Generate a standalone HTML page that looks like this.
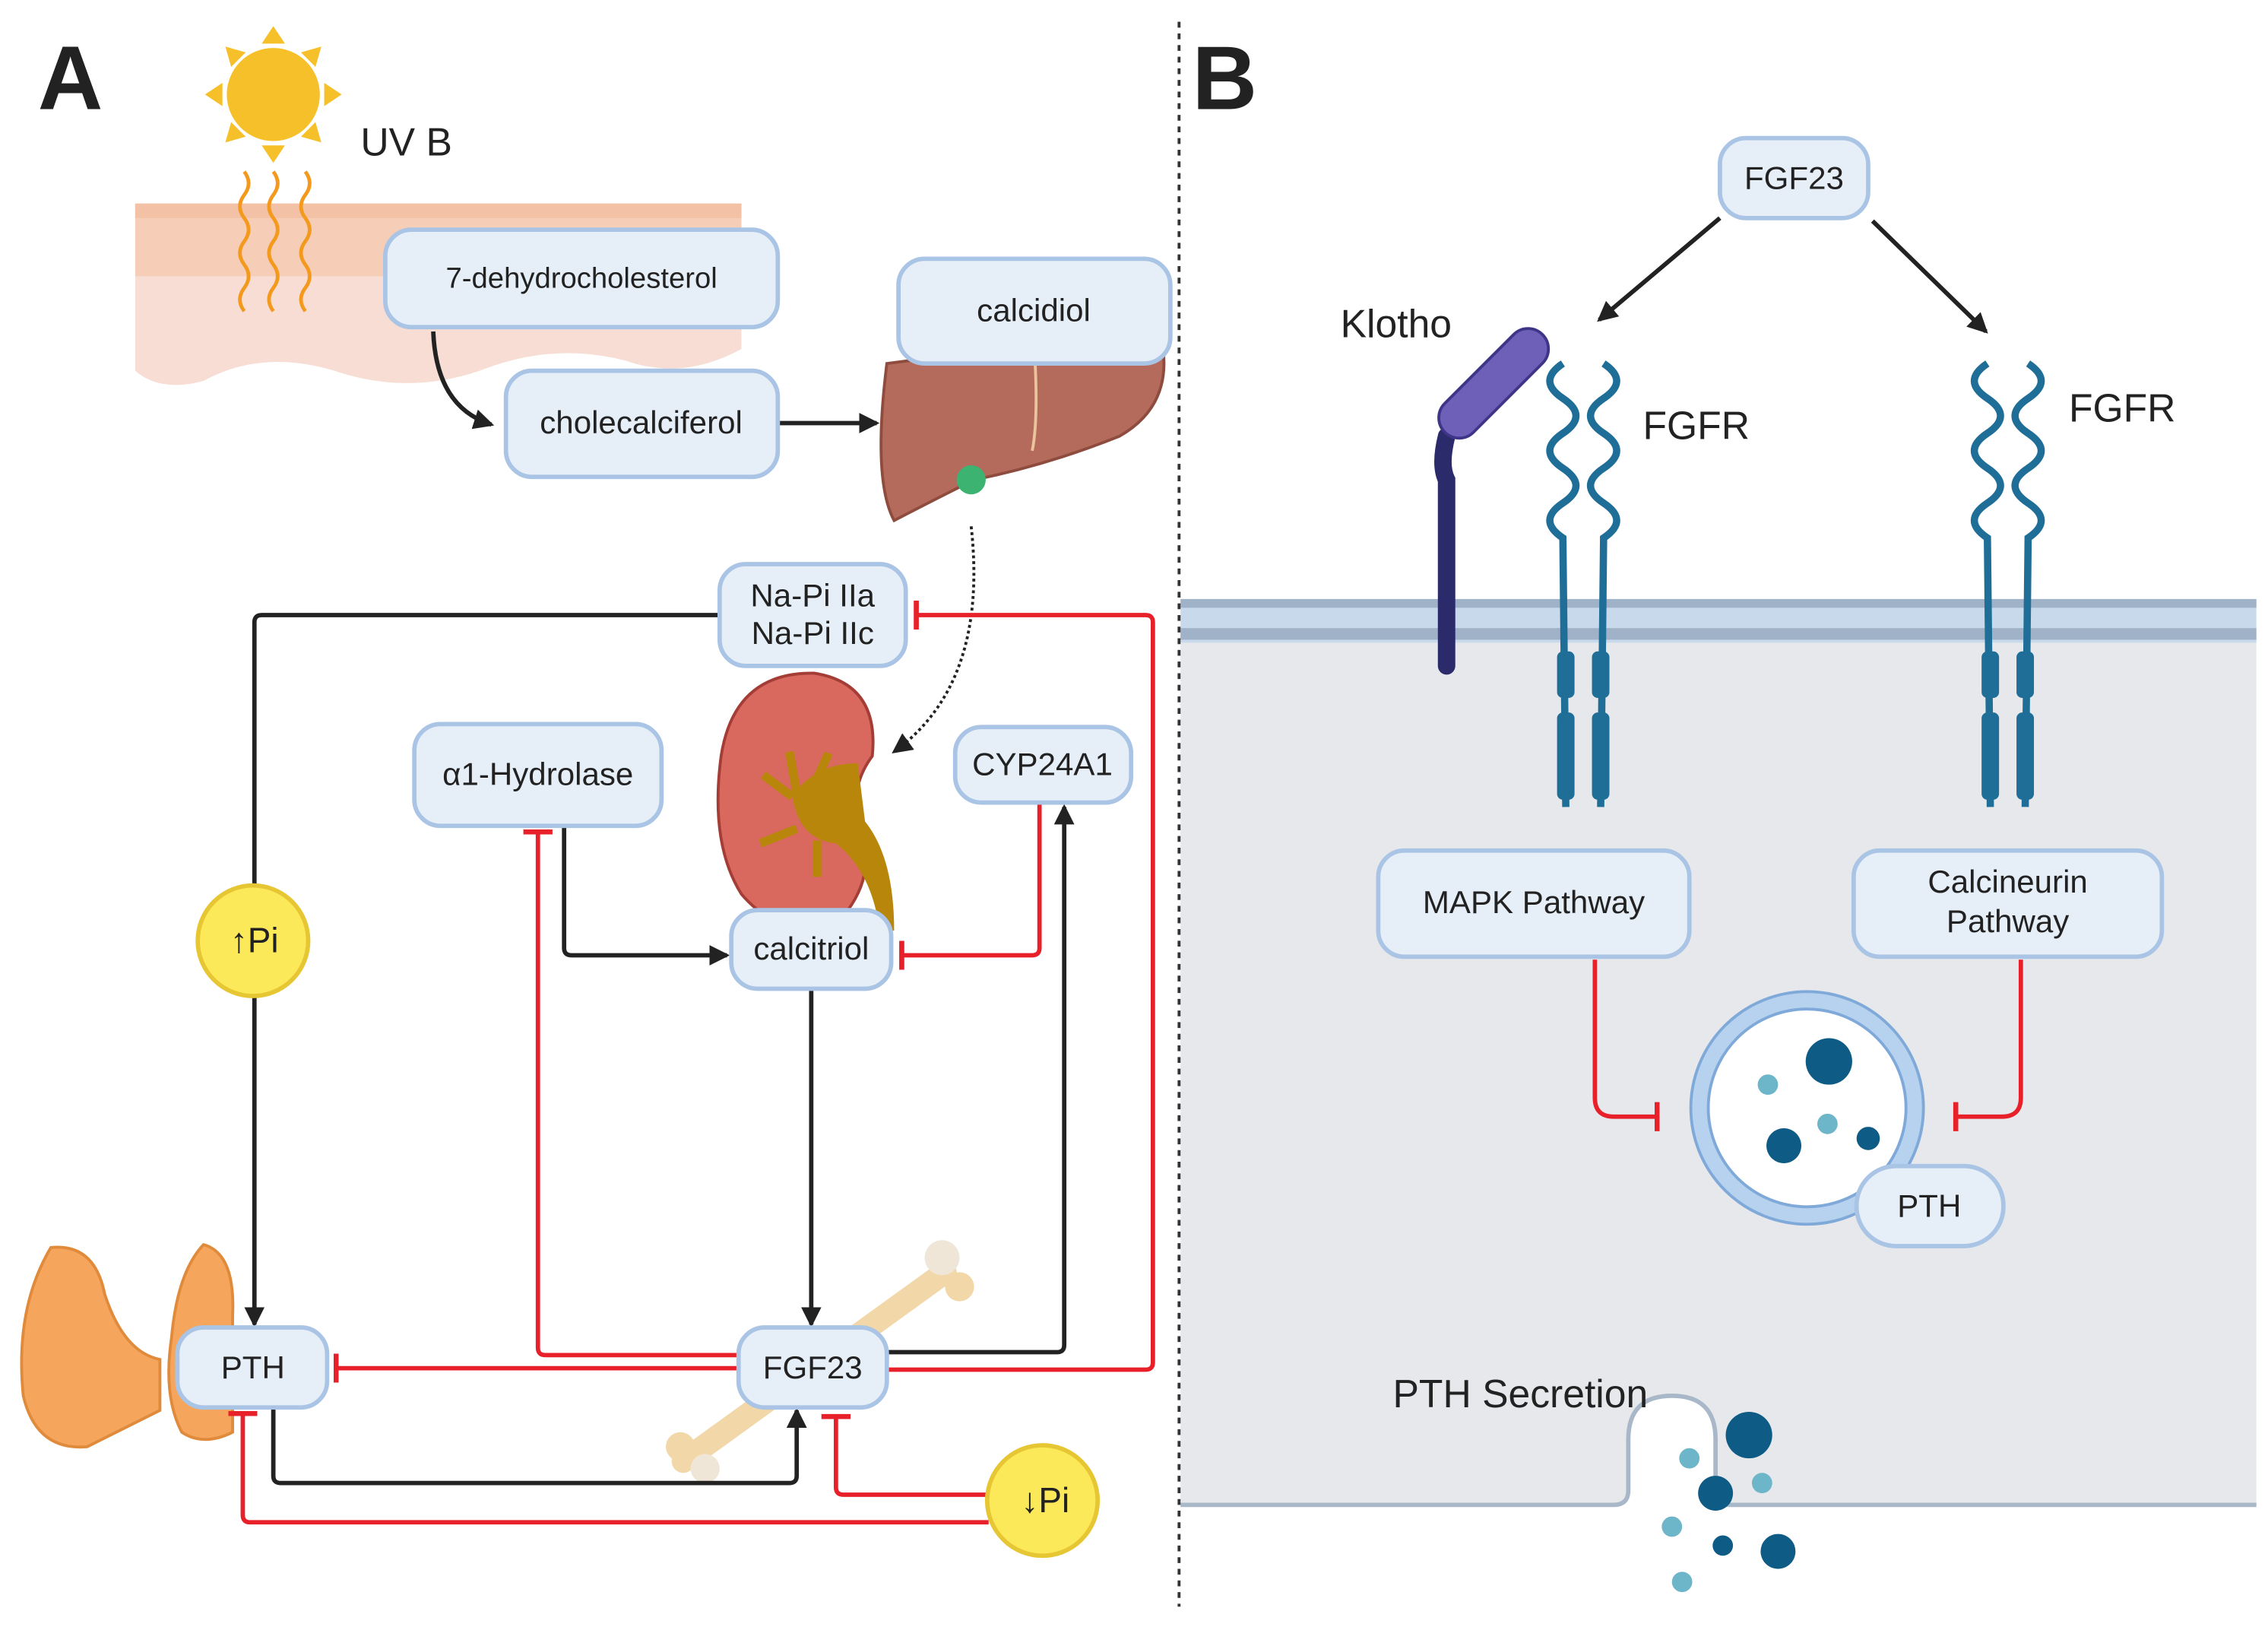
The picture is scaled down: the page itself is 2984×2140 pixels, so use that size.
<!DOCTYPE html>
<html><head><meta charset="utf-8"><style>
html,body{margin:0;padding:0;background:#fff}
svg{display:block}
text{font-family:"Liberation Sans",sans-serif;fill:#222}
</style></head><body>
<svg width="2984" height="2140" viewBox="0 0 1560 1119" preserveAspectRatio="none" xmlns="http://www.w3.org/2000/svg">
<defs>
<marker id="a2" markerWidth="16" markerHeight="16" refX="12" refY="7" orient="auto" markerUnits="userSpaceOnUse"><path d="M0,0 L14,7 L0,14 Z" fill="#222"/></marker>
<marker id="bar" markerWidth="4" markerHeight="20" refX="2" refY="10" orient="auto" markerUnits="userSpaceOnUse"><rect x="0" y="0" width="3.5" height="20" fill="#E8202A"/></marker>
</defs>

<rect x="812" y="440" width="740" height="595" fill="#E6E8EB"/>
<rect x="812" y="412" width="740" height="30" fill="#C9D9EC"/>
<rect x="812" y="412" width="740" height="6" fill="#9FB2C8"/>
<rect x="812" y="432" width="740" height="8" fill="#9FB2C8"/>
<path d="M812,1035 L1110,1035 Q1120,1035 1120,1025 L1120,990 Q1120,960 1150,960 Q1180,960 1180,990 L1180,1025 Q1180,1035 1190,1035 L1552,1035" fill="#fff" stroke="#A9B8C8" stroke-width="3"/>
<rect x="812" y="1037" width="740" height="80" fill="#fff"/>

<line x1="811" y1="15" x2="811" y2="1105" stroke="#333" stroke-width="2" stroke-dasharray="4,4"/>

<text x="26" y="75" font-size="62" font-weight="bold" fill="#111">A</text>
<text x="820" y="75" font-size="62" font-weight="bold" fill="#111">B</text>

<g fill="#F6C02A">
<circle cx="188" cy="65" r="32"/>
<path d="M188,18 l-8,12 h16z M188,112 l-8,-12 h16z M141,65 l12,-8 v16z M235,65 l-12,-8 v16z M155,32 l4,14 l10,-10z M221,32 l-14,4 l10,10z M155,98 l14,-4 l-10,-10z M221,98 l-4,-14 l-10,10z"/>
</g>
<text x="248" y="107" font-size="27">UV B</text>

<path d="M93,140 L510,140 L510,240 Q470,262 430,248 Q380,235 330,255 Q280,272 230,255 Q180,240 140,262 Q110,270 93,255 Z" fill="#F7DDD4"/>
<rect x="93" y="140" width="417" height="50" fill="#F6CDB7"/>
<rect x="93" y="140" width="417" height="10" fill="#F3C2A6"/>
<g stroke="#F39A1E" stroke-width="2.5" fill="none">
<path d="M168,118 q6,8 0,16 q-6,8 0,16 q6,8 0,16 q-6,8 0,16 q6,8 0,16 q-6,8 0,16"/>
<path d="M188,118 q6,8 0,16 q-6,8 0,16 q6,8 0,16 q-6,8 0,16 q6,8 0,16 q-6,8 0,16"/>
<path d="M210,118 q6,8 0,16 q-6,8 0,16 q6,8 0,16 q-6,8 0,16 q6,8 0,16 q-6,8 0,16"/>
</g>

<path d="M610,250 Q700,238 800,240 Q805,280 770,300 Q720,320 670,330 Q640,345 615,358 Q600,330 610,250 Z" fill="#B56B5C" stroke="#8E4C3F" stroke-width="2"/>
<circle cx="668" cy="330" r="10" fill="#3CB371"/>
<path d="M712,250 Q714,290 710,310" stroke="#E8C59C" stroke-width="2" fill="none"/>

<path d="M560,463 Q605,470 600,520 Q585,540 590,565 Q605,600 580,630 Q540,650 510,615 Q488,580 496,520 Q505,462 560,463 Z" fill="#D9685E" stroke="#A33D36" stroke-width="2"/>
<path d="M590,525 Q560,525 545,548 Q550,578 575,580 Q600,600 605,640 L615,640 Q615,590 595,565 Z" fill="#B8860B"/>
<path d="M545,548 l-20,-15 M548,545 l-5,-28 M560,540 l10,-22 M548,570 l-25,10 M562,578 l0,25" stroke="#B8860B" stroke-width="6"/>

<path d="M470,1005 L650,875" stroke="#F2D7A8" stroke-width="16" stroke-linecap="round"/>
<circle cx="648" cy="865" r="12" fill="#EFE6D8"/><circle cx="660" cy="885" r="10" fill="#F2D7A8"/>
<circle cx="468" cy="995" r="10" fill="#F2D7A8"/><circle cx="485" cy="1010" r="10" fill="#EFE6D8"/>

<g fill="#F5A55C" stroke="#E08A3C" stroke-width="2">
<path d="M35,858 Q65,855 72,890 Q85,930 110,935 L110,970 Q80,985 60,995 Q25,998 16,960 Q10,900 35,858 Z"/>
<path d="M140,856 Q162,862 160,905 L160,985 Q140,995 125,985 Q112,960 118,920 Q122,875 140,856 Z"/>
</g>

<g fill="none" stroke-width="3">
<path d="M298,228 Q300,280 338,292" stroke="#222" marker-end="url(#a2)"/>
<path d="M535,291 L603,291" stroke="#222" marker-end="url(#a2)"/>
<path d="M668,362 Q680,470 615,517" stroke="#222" stroke-width="2" stroke-dasharray="2,2" marker-end="url(#a2)"/>
<path d="M495,423 L180,423 Q175,423 175,428 L175,608" stroke="#222"/>
<path d="M175,686 L175,911" stroke="#222" marker-end="url(#a2)"/>
<path d="M611,942 L788,942 Q793,942 793,937 L793,428 Q793,423 788,423 L630,423" stroke="#E8202A" marker-end="url(#bar)"/>
<path d="M611,930 L727,930 Q732,930 732,925 L732,555" stroke="#222" marker-end="url(#a2)"/>
<path d="M715,552 L715,652 Q715,657 710,657 L620,657" stroke="#E8202A" marker-end="url(#bar)"/>
<path d="M388,568 L388,652 Q388,657 393,657 L500,657" stroke="#222" marker-end="url(#a2)"/>
<path d="M508,932 L375,932 Q370,932 370,927 L370,572" stroke="#E8202A" marker-end="url(#bar)"/>
<path d="M558,680 L558,911" stroke="#222" marker-end="url(#a2)"/>
<path d="M508,941 L231,941" stroke="#E8202A" marker-end="url(#bar)"/>
<path d="M188,968 L188,1015 Q188,1020 193,1020 L543,1020 Q548,1020 548,1015 L548,970" stroke="#222" marker-end="url(#a2)"/>
<path d="M680,1028 L580,1028 Q575,1028 575,1023 L575,974" stroke="#E8202A" marker-end="url(#bar)"/>
<path d="M680,1047 L172,1047 Q167,1047 167,1042 L167,972" stroke="#E8202A" marker-end="url(#bar)"/>
</g>

<g fill="#E6EEF8" stroke="#A9C4E4" stroke-width="3">
<rect x="265" y="158" width="270" height="67" rx="18"/>
<rect x="348" y="255" width="187" height="73" rx="18"/>
<rect x="618" y="178" width="187" height="72" rx="18"/>
<rect x="495" y="388" width="128" height="70" rx="18"/>
<rect x="285" y="498" width="170" height="70" rx="18"/>
<rect x="657" y="500" width="121" height="52" rx="18"/>
<rect x="503" y="626" width="110" height="54" rx="18"/>
<rect x="122" y="913" width="103" height="55" rx="18"/>
<rect x="508" y="913" width="102" height="55" rx="18"/>
<rect x="1183" y="95" width="102" height="55" rx="18"/>
<rect x="948" y="585" width="214" height="73" rx="18"/>
<rect x="1275" y="585" width="212" height="73" rx="18"/>
</g>
<g fill="#FCE95A" stroke="#E6C733" stroke-width="3">
<circle cx="174" cy="647" r="38"/>
<circle cx="717" cy="1032" r="38"/>
</g>

<g font-size="22" text-anchor="middle">
<text x="400" y="198" font-size="20">7-dehydrocholesterol</text>
<text x="441" y="298">cholecalciferol</text>
<text x="711" y="221">calcidiol</text>
<text x="559" y="417">Na-Pi IIa</text>
<text x="559" y="443">Na-Pi IIc</text>
<text x="370" y="540">α1-Hydrolase</text>
<text x="717" y="533">CYP24A1</text>
<text x="558" y="660">calcitriol</text>
<text x="174" y="948">PTH</text>
<text x="559" y="948">FGF23</text>
<text x="175" y="655" font-size="24">↑Pi</text>
<text x="719" y="1040" font-size="24">↓Pi</text>
<text x="1234" y="130">FGF23</text>
<text x="1055" y="628">MAPK Pathway</text>
<text x="1381" y="614">Calcineurin</text>
<text x="1381" y="641">Pathway</text>
</g>

<path d="M1183,150 L1100,220" stroke="#222" stroke-width="3" marker-end="url(#a2)"/>
<path d="M1288,152 L1366,228" stroke="#222" stroke-width="3" marker-end="url(#a2)"/>
<text x="922" y="232" font-size="27">Klotho</text>
<text x="1130" y="302" font-size="27">FGFR</text>
<text x="1423" y="290" font-size="27">FGFR</text>

<path d="M995,300 Q990,320 995,330 L995,458" stroke="#2B2A6B" stroke-width="12" stroke-linecap="round" fill="none"/>
<rect x="980" y="250" width="95" height="28" rx="14" transform="rotate(-45 1027 264)" fill="#6E5FB8" stroke="#3E3488" stroke-width="2"/>

<g stroke="#1F6E97" stroke-width="5" fill="none">
<path d="M1075,250 q-18,12 0,24 q18,12 0,24 q-18,12 0,24 q18,12 0,24 q-18,12 0,24 L1077,555"/>
<path d="M1103,250 q18,12 0,24 q-18,12 0,24 q18,12 0,24 q-18,12 0,24 q18,12 0,24 L1101,555"/>
<path d="M1367,250 q-18,12 0,24 q18,12 0,24 q-18,12 0,24 q18,12 0,24 q-18,12 0,24 L1369,555"/>
<path d="M1395,250 q18,12 0,24 q-18,12 0,24 q18,12 0,24 q-18,12 0,24 q18,12 0,24 L1393,555"/>
</g>
<g fill="#1F6E97">
<rect x="1071" y="448" width="12" height="32" rx="4"/><rect x="1071" y="490" width="12" height="60" rx="4"/>
<rect x="1095" y="448" width="12" height="32" rx="4"/><rect x="1095" y="490" width="12" height="60" rx="4"/>
<rect x="1363" y="448" width="12" height="32" rx="4"/><rect x="1363" y="490" width="12" height="60" rx="4"/>
<rect x="1387" y="448" width="12" height="32" rx="4"/><rect x="1387" y="490" width="12" height="60" rx="4"/>
</g>

<g fill="none" stroke="#E8202A" stroke-width="3">
<path d="M1097,660 L1097,755 Q1097,768 1110,768 L1140,768" marker-end="url(#bar)"/>
<path d="M1390,660 L1390,755 Q1390,768 1377,768 L1345,768" marker-end="url(#bar)"/>
</g>

<circle cx="1243" cy="762" r="80" fill="#B7D2EF" stroke="#7FA9D8" stroke-width="2"/>
<circle cx="1243" cy="762" r="68" fill="#fff" stroke="#7FA9D8" stroke-width="2"/>
<circle cx="1258" cy="730" r="16" fill="#0E5C86"/>
<circle cx="1227" cy="788" r="12" fill="#0E5C86"/>
<circle cx="1285" cy="783" r="8" fill="#0E5C86"/>
<circle cx="1216" cy="746" r="7" fill="#6DB5C8"/>
<circle cx="1257" cy="773" r="7" fill="#6DB5C8"/>
<rect x="1277" y="802" width="101" height="55" rx="27" fill="#E6EEF8" stroke="#A9C4E4" stroke-width="3"/>
<text x="1327" y="837" font-size="22" text-anchor="middle">PTH</text>

<text x="958" y="968" font-size="27">PTH Secretion</text>
<circle cx="1203" cy="987" r="16" fill="#0E5C86"/>
<circle cx="1180" cy="1027" r="12" fill="#0E5C86"/>
<circle cx="1223" cy="1067" r="12" fill="#0E5C86"/>
<circle cx="1185" cy="1063" r="7" fill="#0E5C86"/>
<circle cx="1162" cy="1003" r="7" fill="#6DB5C8"/>
<circle cx="1212" cy="1020" r="7" fill="#6DB5C8"/>
<circle cx="1150" cy="1050" r="7" fill="#6DB5C8"/>
<circle cx="1157" cy="1088" r="7" fill="#6DB5C8"/>
</svg>
</body></html>
